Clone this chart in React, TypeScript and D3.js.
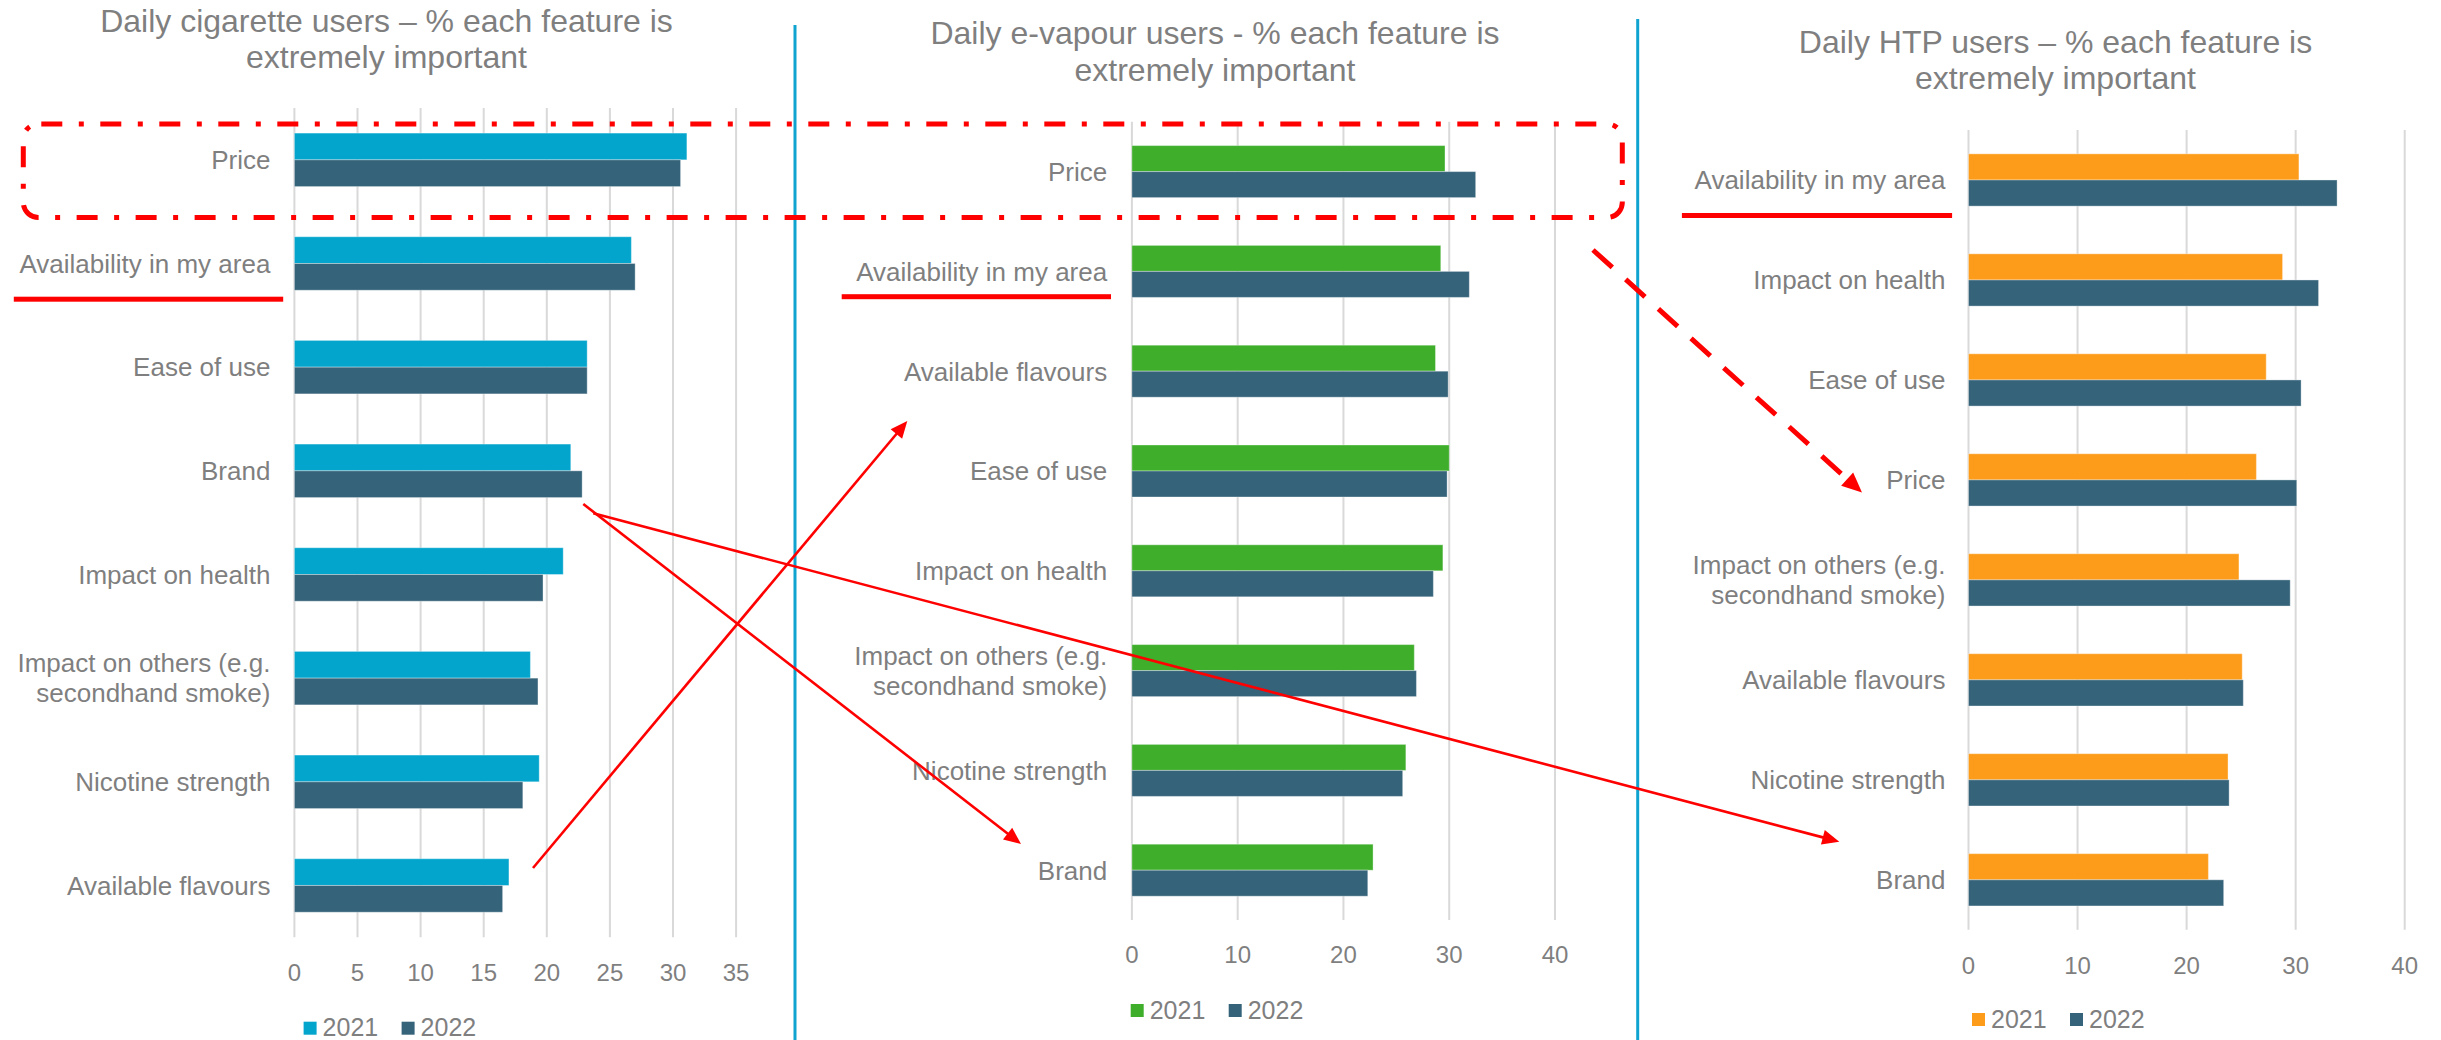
import React from "react";
import * as d3 from "d3";

// ---- Data -------------------------------------------------------------
const years = ["2021", "2022"];

const cigCategories = [
  "Price",
  "Availability in my area",
  "Ease of use",
  "Brand",
  "Impact on health",
  "Impact on others (e.g.\nsecondhand smoke)",
  "Nicotine strength",
  "Available flavours",
];
const cig2021 = [31.1, 26.7, 23.2, 21.9, 21.3, 18.7, 19.4, 17.0];
const cig2022 = [30.6, 27.0, 23.2, 22.8, 19.7, 19.3, 18.1, 16.5];

const vapeCategories = [
  "Price",
  "Availability in my area",
  "Available flavours",
  "Ease of use",
  "Impact on health",
  "Impact on others (e.g.\nsecondhand smoke)",
  "Nicotine strength",
  "Brand",
];
const vape2021 = [29.6, 29.2, 28.7, 30.0, 29.4, 26.7, 25.9, 22.8];
const vape2022 = [32.5, 31.9, 29.9, 29.8, 28.5, 26.9, 25.6, 22.3];

const htpCategories = [
  "Availability in my area",
  "Impact on health",
  "Ease of use",
  "Price",
  "Impact on others (e.g.\nsecondhand smoke)",
  "Available flavours",
  "Nicotine strength",
  "Brand",
];
const htp2021 = [30.3, 28.8, 27.3, 26.4, 24.8, 25.1, 23.8, 22.0];
const htp2022 = [33.8, 32.1, 30.5, 30.1, 29.5, 25.2, 23.9, 23.4];

const cigTicks = [0, 5, 10, 15, 20, 25, 30, 35];
const otherTicks = [0, 10, 20, 30, 40];

const cigTitle = ["Daily cigarette users \u2013 % each feature is", "extremely important"];
const vapeTitle = ["Daily e-vapour users - % each feature is", "extremely important"];
const htpTitle = ["Daily HTP users \u2013 % each feature is", "extremely important"];

// ---- Styling ----------------------------------------------------------
const FONT = "'Liberation Sans', Arial, Helvetica, sans-serif";
const TEXT = "#7f7f7f";
const GRID = "#d9d9d9";
const DARK = "#35637a";
const RED = "#ff0000";
const DIVIDER = "#0fa4d0";

type Panel = {
  title: string[];
  titleX: number;
  titleY: number;
  categories: string[];
  v2021: number[];
  v2022: number[];
  c2021: string;
  ticks: number[];
  xMax: number;
  x0: number;
  x1: number;
  top: number;
  bottom: number;
  padInner: number;
  labelX: number;
  tickY: number;
  legendX: number;
  legendY: number;
  underline: [number, number, number];
};

const panels: Panel[] = [
  {
    title: cigTitle,
    titleX: 386.5,
    titleY: 31.7,
    categories: cigCategories,
    v2021: cig2021,
    v2022: cig2022,
    c2021: "#03a5cd",
    ticks: cigTicks,
    xMax: 40,
    x0: 294.4,
    x1: 799.2,
    top: 108,
    bottom: 937.3,
    padInner: 0.484,
    labelX: 270.4,
    tickY: 981,
    legendX: 303.6,
    legendY: 1021.7,
    underline: [13.8, 283.2, 299.2],
  },
  {
    title: vapeTitle,
    titleX: 1215,
    titleY: 44,
    categories: vapeCategories,
    v2021: vape2021,
    v2022: vape2022,
    c2021: "#3eae2b",
    ticks: otherTicks,
    xMax: 40,
    x0: 1131.9,
    x1: 1555,
    top: 121.7,
    bottom: 920.1,
    padInner: 0.479,
    labelX: 1107.2,
    tickY: 963.2,
    legendX: 1130.7,
    legendY: 1004,
    underline: [841.7, 1111, 296.7],
  },
  {
    title: htpTitle,
    titleX: 2055.5,
    titleY: 52.7,
    categories: htpCategories,
    v2021: htp2021,
    v2022: htp2022,
    c2021: "#fd9c1a",
    ticks: otherTicks,
    xMax: 40,
    x0: 1968.5,
    x1: 2404.7,
    top: 130,
    bottom: 929.8,
    padInner: 0.477,
    labelX: 1945.5,
    tickY: 973.5,
    legendX: 1972,
    legendY: 1013,
    underline: [1681.9, 1952.1, 215.5],
  },
];

// Hand-drawn annotation arrows (solid and dashed)
const arrows = [
  { from: [583.3, 504], to: [1021, 844], width: 2.6, dash: "" },
  { from: [593.3, 513.3], to: [1839.3, 841.7], width: 2.6, dash: "" },
  { from: [533, 868], to: [907.3, 421], width: 2.6, dash: "" },
  { from: [1593, 250], to: [1862, 492.5], width: 5, dash: "26 18" },
];

function Arrow({ from, to, width, dash }: { from: number[]; to: number[]; width: number; dash: string }) {
  const dx = to[0] - from[0];
  const dy = to[1] - from[1];
  const len = Math.hypot(dx, dy);
  const ux = dx / len;
  const uy = dy / len;
  const headLen = dash ? 20 : 17;
  const headHalf = dash ? 9 : 7.5;
  const bx = to[0] - ux * headLen;
  const by = to[1] - uy * headLen;
  const pts = [
    [to[0], to[1]],
    [bx - uy * headHalf, by + ux * headHalf],
    [bx + uy * headHalf, by - ux * headHalf],
  ];
  return (
    <g>
      <line
        x1={from[0]}
        y1={from[1]}
        x2={bx + ux * 2}
        y2={by + uy * 2}
        stroke={RED}
        strokeWidth={width}
        strokeDasharray={dash || undefined}
      />
      <polygon points={pts.map((p) => p.join(",")).join(" ")} fill={RED} />
    </g>
  );
}

function BarPanel({ p }: { p: Panel }) {
  const x = d3.scaleLinear().domain([0, p.xMax]).range([p.x0, p.x1]);
  const y = d3
    .scaleBand<string>()
    .domain(p.categories)
    .range([p.top, p.bottom])
    .paddingInner(p.padInner)
    .paddingOuter(p.padInner / 2);
  const sub = d3.scaleBand<string>().domain(years).range([0, y.bandwidth()]);
  const colors = [p.c2021, DARK];
  const series = [p.v2021, p.v2022];

  return (
    <g>
      {p.title.map((t, i) => (
        <text
          key={t}
          x={p.titleX}
          y={p.titleY + i * 36.5}
          textAnchor="middle"
          fontSize={32}
          fill={TEXT}
          fontFamily={FONT}
        >
          {t}
        </text>
      ))}
      {p.ticks.map((t) => (
        <line key={"g" + t} x1={x(t)} x2={x(t)} y1={p.top} y2={p.bottom} stroke={GRID} strokeWidth={2} />
      ))}
      {p.ticks.map((t) => (
        <text
          key={"t" + t}
          x={x(t)}
          y={p.tickY}
          textAnchor="middle"
          fontSize={24}
          fill={TEXT}
          fontFamily={FONT}
        >
          {t}
        </text>
      ))}
      {p.categories.map((c, i) => (
        <g key={c}>
          {series.map((vals, s) => (
            <rect
              key={s}
              x={x(0)}
              y={(y(c) as number) + (sub(years[s]) as number)}
              width={x(vals[i]) - x(0)}
              height={sub.bandwidth()}
              fill={colors[s]}
              stroke="rgba(255,255,255,0.35)"
              strokeWidth={1}
            />
          ))}
        </g>
      ))}
      {p.categories.map((c) => {
        const lines = c.split("\n");
        const cy = (y(c) as number) + y.bandwidth() / 2 + 9.3;
        const lh = 30;
        const start = cy - ((lines.length - 1) * lh) / 2;
        return (
          <text key={"l" + c} textAnchor="end" fontSize={26} fill={TEXT} fontFamily={FONT}>
            {lines.map((ln, k) => (
              <tspan key={k} x={p.labelX} y={start + k * lh}>
                {ln}
              </tspan>
            ))}
          </text>
        );
      })}
      {years.map((yr, i) => (
        <g key={yr} transform={`translate(${p.legendX + i * 98},${p.legendY})`}>
          <rect x={0} y={0} width={13} height={13} fill={colors[i]} />
          <text x={19} y={14.5} fontSize={25} fill={TEXT} fontFamily={FONT}>
            {yr}
          </text>
        </g>
      ))}
      <rect
        x={p.underline[0]}
        y={p.underline[2] - 2.5}
        width={p.underline[1] - p.underline[0]}
        height={5}
        fill={RED}
      />
    </g>
  );
}

export default function App() {
  return (
    <svg
      width={2441}
      height={1040}
      viewBox="0 0 2441 1040"
      style={{ position: "absolute", left: 0, top: 0, background: "#ffffff" }}
    >
      <rect x={0} y={0} width={2441} height={1040} fill="#ffffff" />
      {panels.map((p, i) => (
        <BarPanel key={i} p={p} />
      ))}
      <line x1={795} x2={795} y1={25} y2={1040} stroke={DIVIDER} strokeWidth={3} />
      <line x1={1637.7} x2={1637.7} y1={19} y2={1040} stroke={DIVIDER} strokeWidth={3} />
      <rect
        x={23.3}
        y={124}
        width={1599}
        height={93.5}
        rx={15}
        ry={15}
        fill="none"
        stroke={RED}
        strokeWidth={5}
        strokeDasharray="21 16.5 5 16.5"
        strokeDashoffset={-3}
      />
      {arrows.map((a, i) => (
        <Arrow key={i} from={a.from} to={a.to} width={a.width} dash={a.dash} />
      ))}
    </svg>
  );
}
